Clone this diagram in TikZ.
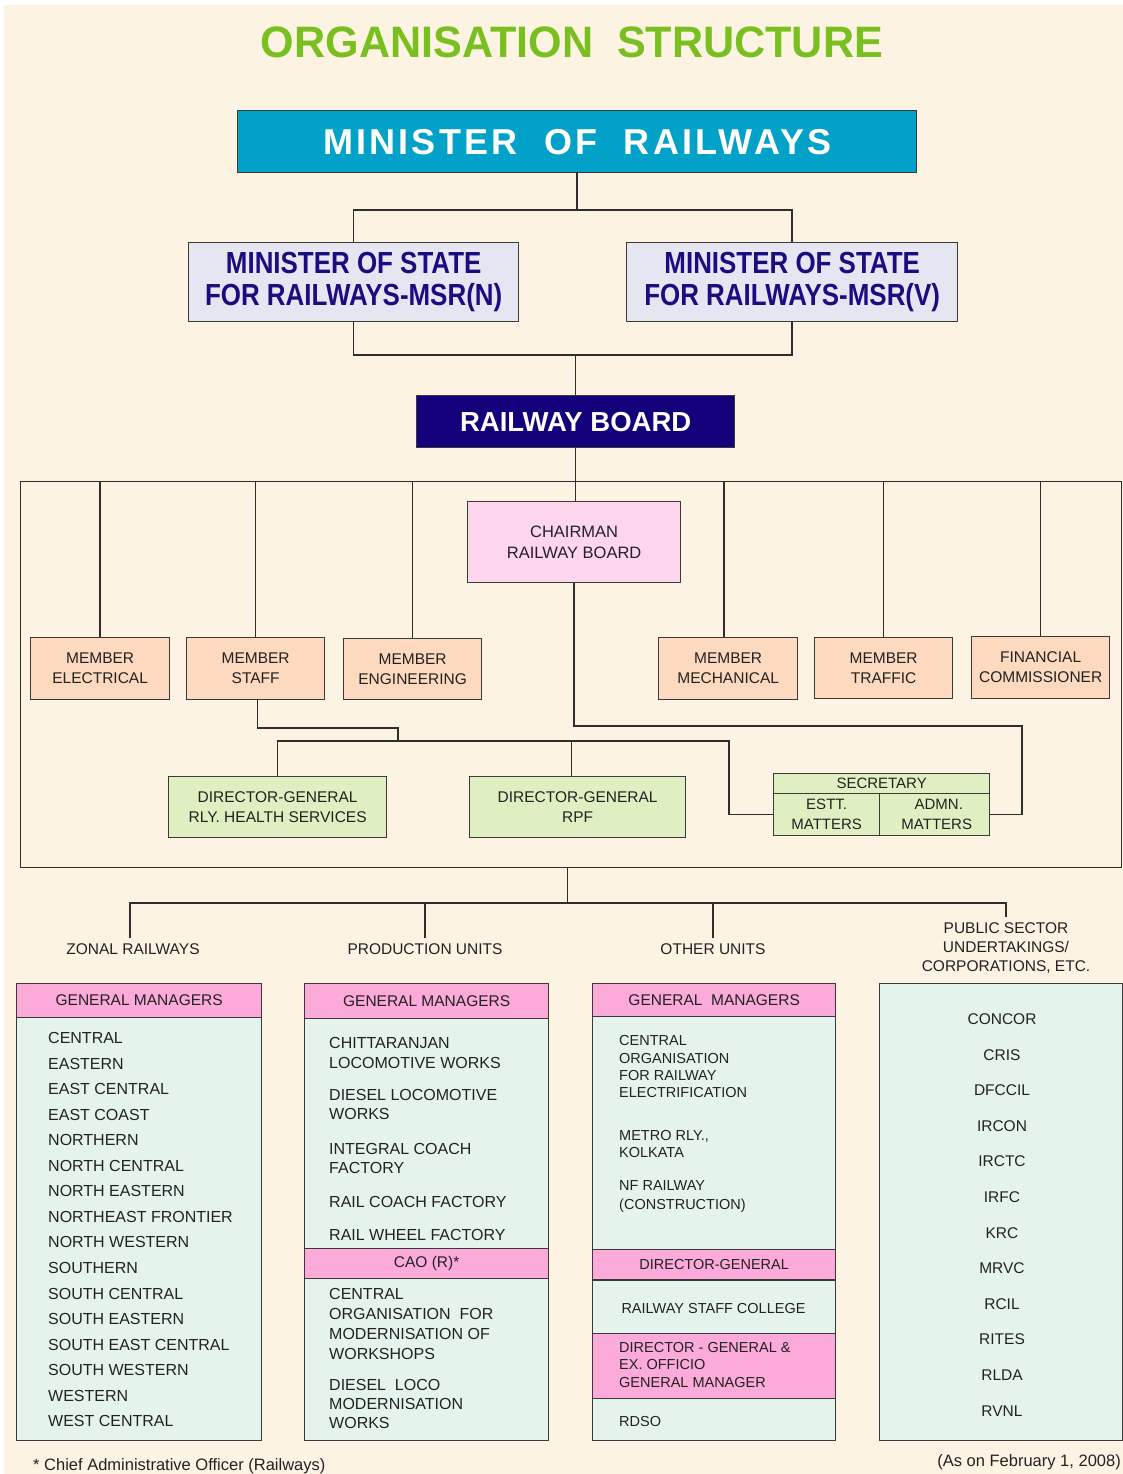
\documentclass[tikz,border=0pt]{standalone}
\usepackage{fontspec}
\setmainfont{Liberation Sans}
\newfontfamily\spacedfont[LetterSpace=9]{Liberation Sans}
\usepackage{graphicx}
\definecolor{cream}{HTML}{FDF3E2}
\definecolor{titlegreen}{HTML}{7ABF20}
\definecolor{morblue}{HTML}{02A2C8}
\definecolor{msrfill}{HTML}{E6E6F3}
\definecolor{msrtext}{HTML}{1B0C80}
\definecolor{rbfill}{HTML}{14007A}
\definecolor{chfill}{HTML}{FDD6EE}
\definecolor{memfill}{HTML}{FDD9C0}
\definecolor{dgfill}{HTML}{E0EFC1}
\definecolor{hpink}{HTML}{FBAAD9}
\definecolor{listg}{HTML}{E4F4EC}
\definecolor{wire}{HTML}{2E2E2E}
\definecolor{edge}{HTML}{3A3A3A}
\definecolor{txt}{HTML}{222222}
\newcommand\sq[2]{\scalebox{#1}[1]{#2}}
\tikzset{
 bx/.style={draw=edge, line width=1.3pt, inner sep=0pt, anchor=north west, align=center, text=txt},
 ln/.style={draw=wire, line width=1.4pt},
 f155/.style={font=\fontsize{15.5}{20}\selectfont},
 itm/.style={inner sep=0pt, text=txt, font=\fontsize{16}{19}\selectfont},
 itms/.style={inner sep=0pt, text=txt, font=\fontsize{14.5}{17}\selectfont},
 lbl/.style={inner sep=5pt, text=txt, align=center, font=\fontsize{15.5}{19}\selectfont},
 msr/.style={bx, fill=msrfill, minimum width=330pt, minimum height=79pt, text=msrtext, font=\bfseries\fontsize{30.5}{32}\selectfont},
 mem/.style={bx, fill=memfill, minimum width=138pt, minimum height=62pt, f155},
 dg/.style={bx, fill=dgfill, f155},
}
\begin{document}
\begin{tikzpicture}[x=1pt,y=-1pt]
\useasboundingbox (0,0) rectangle (1123,1474);
\fill[white] (0,0) rectangle (1123,1474);
\fill[cream] (4,5) rectangle (1123,1474);

% title
\node[text=titlegreen, font=\bfseries\fontsize{44}{44}\selectfont, inner sep=0pt] (title) at (572,42) {\sq{0.98}{ORGANISATION\ \ STRUCTURE}};

% top hierarchy
\node[bx, fill=morblue, minimum width=679pt, minimum height=62pt, text=white, font=\spacedfont\bfseries\fontsize{36}{36}\selectfont] (mor) at (237,110) {MINISTER\ \ OF\ \ RAILWAYS};
\node[msr] (msrn) at (188,242) {\sq{0.85}{MINISTER OF STATE}\\\sq{0.85}{FOR RAILWAYS-MSR(N)}};
\node[msr, minimum width=331pt] (msrv) at (626,242) {\sq{0.85}{MINISTER OF STATE}\\\sq{0.85}{FOR RAILWAYS-MSR(V)}};
\node[bx, fill=rbfill, minimum width=318pt, minimum height=52pt, text=white, font=\bfseries\fontsize{27.5}{30}\selectfont] (rb) at (416,395) {RAILWAY BOARD};

\coordinate (j1) at (573,210);
\draw[ln] (mor.south) -- (mor.south |- j1);
\draw[ln] (msrn.north) |- (j1) -| (msrv.north);
\coordinate (j2) at (575,355);
\draw[ln] (msrn.south) |- (j2) -| (msrv.south);
\draw[ln] (rb.north) -- (rb.north |- j2);

% railway board frame
\node[draw=wire, line width=1.4pt, minimum width=1101pt, minimum height=386pt, anchor=north west, inner sep=0pt] (frame) at (20,481) {};

\node[bx, fill=chfill, minimum width=213pt, minimum height=81pt, font=\fontsize{16.5}{21}\selectfont] (ch) at (467,501) {CHAIRMAN\\RAILWAY BOARD};
\draw[ln] (rb.south) -- (rb.south |- ch.north);

\node[mem, minimum width=139pt] (me) at (30,637) {MEMBER\\ELECTRICAL};
\node[mem] (ms) at (186,637) {MEMBER\\STAFF};
\node[mem, minimum height=61pt] (mg) at (343,638) {MEMBER\\ENGINEERING};
\node[mem, minimum width=139pt] (mm) at (658,637) {MEMBER\\MECHANICAL};
\node[mem, minimum height=61pt] (mt) at (814,637) {MEMBER\\TRAFFIC};
\node[mem] (fc) at (971,636) {FINANCIAL\\COMMISSIONER};
\foreach \n in {me,ms,mg,mt,fc}
  \draw[ln] (\n.north) -- (\n.north |- frame.north);
\draw[ln] ([xshift=-4pt]mm.north) -- ([xshift=-4pt]mm.north |- frame.north);

\node[dg, minimum width=218pt, minimum height=61pt] (dgh) at (168,776) {DIRECTOR-GENERAL\\RLY. HEALTH SERVICES};
\node[dg, minimum width=216pt, minimum height=61pt] (dgr) at (469,776) {DIRECTOR-GENERAL\\RPF};

\node[dg, minimum width=216pt, minimum height=20pt, font=\fontsize{15}{18}\selectfont] (sech) at (773,773) {SECRETARY};
\node[dg, minimum width=106pt, minimum height=42pt, font=\fontsize{15}{20}\selectfont] (est) at (773,793) {ESTT.\\MATTERS};
\node[dg, minimum width=110pt, minimum height=42pt, font=\fontsize{15}{20}\selectfont] (adm) at (879,793) {\ \ ADMN.\\\ MATTERS};

\coordinate (cA) at (1022,726);
\draw[ln] (ch.south) |- (cA) |- (adm.east);
\coordinate (sA) at (398,728);
\coordinate (sB) at (729,741);
\draw[ln] ([xshift=2pt]ms.south) |- (sA) -- (sA |- sB);
\draw[ln] (dgh.north) |- (sB) |- (est.west);
\draw[ln] ([xshift=-6pt]dgr.north) -- ([xshift=-6pt]dgr.north |- sB);

% lower branch labels
\node[lbl] (zrl) at (133,949) {ZONAL RAILWAYS};
\node[lbl] (pul) at (425,949) {PRODUCTION UNITS};
\node[lbl] (oul) at (713,949) {OTHER UNITS};
\node[lbl] (psul) at (1006,948) {PUBLIC SECTOR\\UNDERTAKINGS/\\CORPORATIONS, ETC.};
\coordinate (bus) at (567,903);
\draw[ln] ([xshift=-3.5pt]frame.south) -- ([xshift=-3.5pt]frame.south |- bus);
\draw[ln] ([xshift=-3pt]zrl.north) |- (psul.north |- bus) -- (psul.north);
\draw[ln] (pul.north) -- (pul.north |- bus);
\draw[ln] (oul.north) -- (oul.north |- bus);

% zonal railways box
\node[bx, fill=listg, minimum width=245pt, minimum height=457pt] (zbox) at (16,983) {};
\node[bx, fill=hpink, minimum width=245pt, minimum height=34pt, f155] (zhead) at (16,983) {GENERAL MANAGERS};
\foreach \t [count=\i from 0] in {CENTRAL, EASTERN, EAST CENTRAL, EAST COAST, NORTHERN, NORTH CENTRAL, NORTH EASTERN, NORTHEAST FRONTIER, NORTH WESTERN, SOUTHERN, SOUTH CENTRAL, SOUTH EASTERN, SOUTH EAST CENTRAL, SOUTH WESTERN, WESTERN, WEST CENTRAL}
  \node[itm, anchor=base west] (z\i) at (48,{1038+\i*25.53+5.7}) {\t};

% production units box
\node[bx, fill=listg, minimum width=244pt, minimum height=457pt] (pbox) at (304,983) {};
\node[bx, fill=hpink, minimum width=244pt, minimum height=35pt, f155] (phead) at (304,983) {GENERAL MANAGERS};
\node[bx, fill=hpink, minimum width=244pt, minimum height=30pt, f155] (cao) at (304,1248) {CAO (R)*};
\foreach \y/\t [count=\i] in {1043/CHITTARANJAN, 1063/LOCOMOTIVE WORKS, 1095/DIESEL LOCOMOTIVE, 1114/WORKS, 1149/INTEGRAL COACH, 1168/FACTORY, 1202/RAIL COACH FACTORY, 1235/RAIL WHEEL FACTORY, 1294/CENTRAL, 1314/ORGANISATION\ \ FOR, 1334/MODERNISATION OF, 1354/WORKSHOPS, 1385/DIESEL\ \ LOCO, 1404/MODERNISATION, 1423/WORKS}
  \node[itm, anchor=base west] (p\i) at (329,{\y+5.7}) {\t};

% other units box
\node[bx, fill=listg, minimum width=243pt, minimum height=457pt] (obox) at (592,983) {};
\node[bx, fill=hpink, minimum width=243pt, minimum height=33pt, f155] (ohead) at (592,983) {GENERAL\ \ MANAGERS};
\node[bx, fill=hpink, minimum width=243pt, minimum height=30pt, font=\fontsize{14.5}{17}\selectfont] (odg) at (592,1249) {DIRECTOR-GENERAL};
\node[bx, fill=hpink, minimum width=243pt, minimum height=65pt] (odge) at (592,1333) {};
\draw[draw=edge, line width=1.3pt] (odg.south west) -- (odg.south east);
\foreach \y/\t [count=\i] in {1040/CENTRAL, 1058/ORGANISATION, 1075/FOR RAILWAY, 1092/ELECTRIFICATION, 1135/{METRO RLY.,}, 1152/KOLKATA, 1185/NF RAILWAY, 1204/(CONSTRUCTION), 1347/DIRECTOR - GENERAL \&, 1364/EX. OFFICIO, 1382/GENERAL MANAGER, 1421/RDSO}
  \node[itms, anchor=base west] (o\i) at (619,{\y+5.2}) {\t};
\node[itms] (rsc) at (713.5,1308) {RAILWAY STAFF COLLEGE};

% public sector box
\node[bx, fill=listg, minimum width=243pt, minimum height=457pt] (psbox) at (879,983) {};
\foreach \t [count=\i from 0] in {CONCOR, CRIS, DFCCIL, IRCON, IRCTC, IRFC, KRC, MRVC, RCIL, RITES, RLDA, RVNL}
  \node[itm, font=\fontsize{15.5}{19}\selectfont, anchor=base] (ps\i) at (1002,{1019+\i*35.6+5.5}) {\t};

% footer
\node[inner sep=0pt, text=txt, font=\fontsize{16.5}{18}\selectfont, anchor=base west] (foot1) at (33,1470) {* Chief Administrative Officer (Railways)};
\node[inner sep=0pt, text=txt, font=\fontsize{16.5}{18}\selectfont, anchor=base east] (foot2) at (1121,1466) {(As on February 1, 2008)};
\end{tikzpicture}
\end{document}
